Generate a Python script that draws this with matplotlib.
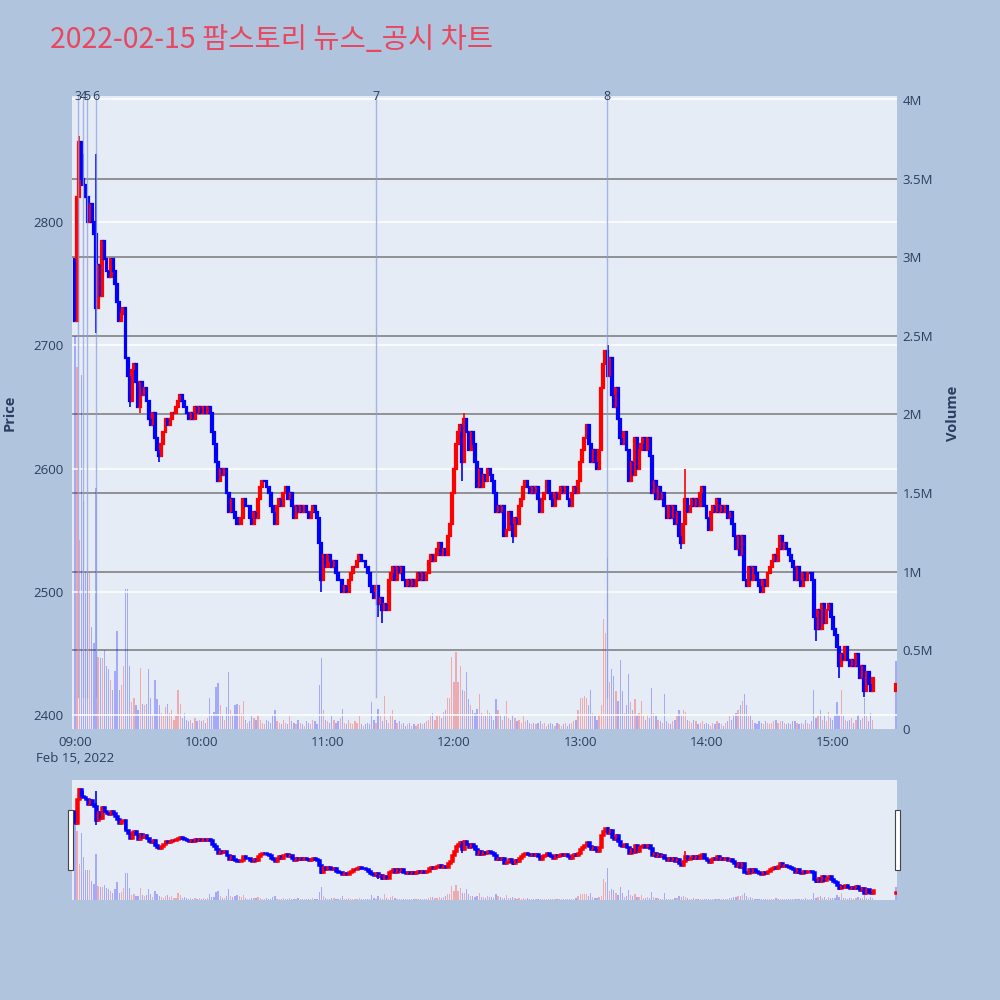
import matplotlib.pyplot as plt
import numpy as np
from matplotlib.patches import Rectangle
import matplotlib.transforms as mtransforms

plt.rcParams['font.family'] = ['Open Sans', 'Noto Sans CJK KR', 'DejaVu Sans']

BG = "#b0c4de"
PLOT_BG = "#e5ecf6"
TXT = "#2a3f5f"
UP = "#ff0000"
DOWN = "#0000ff"

title = "2022-02-15 팜스토리 뉴스_공시 차트"
date_label = "Feb 15, 2022"

# 1-minute candles 09:00 .. 15:19, open of each = previous close
first_open = 2770
closes = [
    2720, 2820, 2865, 2835, 2830, 2820, 2800, 2815, 2800, 2790,
    2730, 2765, 2740, 2785, 2770, 2760, 2755, 2770, 2760, 2750,
    2735, 2720, 2725, 2730, 2690, 2675, 2655, 2680, 2685, 2670,
    2650, 2670, 2660, 2665, 2655, 2640, 2635, 2645, 2625, 2615,
    2610, 2620, 2630, 2640, 2635, 2640, 2645, 2645, 2650, 2655,
    2660, 2655, 2650, 2645, 2640, 2645, 2640, 2650, 2645, 2650,
    2645, 2650, 2645, 2650, 2645, 2630, 2620, 2605, 2590, 2600,
    2595, 2600, 2580, 2565, 2575, 2565, 2560, 2555, 2555, 2560,
    2575, 2570, 2570, 2560, 2555, 2565, 2560, 2575, 2585, 2590,
    2590, 2585, 2580, 2570, 2565, 2555, 2570, 2575, 2570, 2580,
    2585, 2575, 2580, 2570, 2560, 2570, 2565, 2570, 2565, 2570,
    2565, 2560, 2565, 2570, 2565, 2560, 2540, 2510, 2530, 2520,
    2530, 2525, 2520, 2525, 2515, 2510, 2510, 2500, 2505, 2500,
    2510, 2515, 2520, 2520, 2525, 2530, 2525, 2525, 2520, 2515,
    2505, 2500, 2495, 2505, 2490, 2495, 2485, 2490, 2485, 2510,
    2515, 2520, 2510, 2520, 2515, 2520, 2510, 2505, 2510, 2505,
    2510, 2505, 2510, 2515, 2510, 2515, 2510, 2515, 2525, 2530,
    2525, 2530, 2535, 2540, 2530, 2535, 2530, 2545, 2555, 2580,
    2600, 2620, 2630, 2635, 2605, 2640, 2630, 2615, 2630, 2620,
    2605, 2585, 2600, 2585, 2595, 2590, 2600, 2595, 2590, 2580,
    2565, 2570, 2565, 2570, 2545, 2550, 2565, 2555, 2545, 2560,
    2555, 2570, 2575, 2585, 2590, 2585, 2580, 2585, 2580, 2585,
    2575, 2565, 2575, 2580, 2590, 2580, 2575, 2570, 2580, 2575,
    2580, 2585, 2580, 2585, 2575, 2570, 2580, 2585, 2580, 2590,
    2605, 2615, 2625, 2635, 2620, 2605, 2615, 2605, 2600, 2615,
    2665, 2685, 2695, 2675, 2690, 2660, 2650, 2665, 2640, 2625,
    2620, 2630, 2615, 2590, 2605, 2595, 2625, 2600, 2615, 2620,
    2625, 2615, 2625, 2610, 2580, 2590, 2575, 2585, 2575, 2580,
    2570, 2560, 2570, 2560, 2570, 2555, 2565, 2545, 2540, 2555,
    2575, 2565, 2570, 2575, 2570, 2575, 2570, 2580, 2585, 2570,
    2560, 2550, 2565, 2570, 2565, 2575, 2565, 2570, 2565, 2570,
    2560, 2565, 2555, 2545, 2535, 2545, 2530, 2545, 2510, 2505,
    2520, 2510, 2520, 2515, 2510, 2505, 2500, 2510, 2505, 2515,
    2520, 2525, 2530, 2525, 2535, 2545, 2535, 2540, 2535, 2530,
    2525, 2520, 2510, 2520, 2510, 2505, 2515, 2510, 2515, 2515,
    2510, 2480, 2470, 2485, 2470, 2490, 2475, 2485, 2490, 2480,
    2470, 2465, 2455, 2440, 2450, 2445, 2455, 2445, 2440, 2445,
    2440, 2450, 2440, 2430, 2440, 2420, 2435, 2425, 2420, 2430,
]
# wicks reaching beyond the candle body (minute index -> price)
wick_high = {2: 2870, 4: 2855, 10: 2855, 185: 2645, 253: 2700, 290: 2600}
wick_low = {10: 2710, 26: 2650, 31: 2645, 40: 2605, 117: 2500, 144: 2480,
            146: 2475, 184: 2590, 208: 2540, 288: 2535, 352: 2460,
            363: 2430, 375: 2415}

# volume in thousand shares per minute
volume_k = [
    2500, 2300, 1200, 2250, 1450, 1000, 1000, 1000, 650, 550,
    1530, 460, 450, 450, 500, 400, 380, 310, 250, 370,
    620, 250, 280, 400, 890, 890, 400, 170, 200, 150,
    120, 390, 160, 150, 160, 380, 200, 90, 310, 190,
    150, 100, 80, 140, 160, 100, 120, 60, 80, 250,
    160, 70, 100, 60, 50, 60, 40, 70, 50, 60,
    50, 60, 40, 70, 200, 90, 110, 270, 290, 150,
    80, 60, 140, 360, 120, 90, 150, 160, 150, 100,
    180, 60, 40, 50, 80, 70, 60, 90, 60, 40,
    30, 60, 50, 40, 90, 120, 50, 40, 30, 60,
    40, 30, 80, 50, 40, 30, 60, 40, 30, 20,
    50, 40, 30, 60, 50, 30, 280, 450, 120, 60,
    50, 40, 80, 60, 40, 50, 70, 125, 40, 30,
    60, 40, 30, 50, 40, 80, 30, 20, 30, 40,
    30, 170, 60, 40, 125, 80, 50, 210, 60, 40,
    90, 120, 60, 40, 50, 30, 40, 20, 30, 40,
    20, 30, 20, 30, 40, 30, 40, 50, 60, 90,
    100, 60, 80, 90, 70, 110, 120, 200, 200, 460,
    300, 490, 300, 400, 250, 240, 360, 190, 150, 120,
    100, 130, 220, 100, 90, 80, 120, 100, 90, 60,
    190, 120, 90, 60, 80, 180, 70, 60, 90, 70,
    50, 60, 40, 80, 50, 60, 40, 30, 40, 30,
    40, 50, 30, 40, 20, 30, 40, 30, 20, 40,
    30, 20, 30, 40, 20, 30, 40, 50, 60, 120,
    200, 200, 210, 200, 150, 250, 100, 80, 60, 90,
    150, 700, 610, 1090, 300, 380, 340, 240, 180, 440,
    240, 100, 150, 350, 170, 120, 190, 90, 100, 180,
    80, 60, 90, 70, 260, 100, 80, 60, 50, 40,
    220, 50, 40, 30, 50, 60, 80, 120, 90, 120,
    110, 60, 50, 40, 60, 50, 30, 40, 50, 30,
    40, 30, 20, 40, 30, 50, 40, 30, 20, 40,
    50, 80, 60, 90, 100, 120, 150, 180, 220, 150,
    80, 90, 60, 40, 30, 50, 40, 30, 50, 40,
    30, 40, 50, 60, 40, 50, 50, 40, 30, 40,
    30, 50, 50, 40, 30, 40, 30, 60, 40, 30,
    50, 250, 70, 90, 120, 60, 90, 50, 110, 70,
    60, 80, 170, 90, 250, 80, 60, 50, 60, 70,
    40, 60, 90, 60, 70, 200, 80, 50, 100, 60,
]

# closing auction
auction_time = "15:30"
auction_open, auction_close, auction_volume_k = 2420, 2425, 430

news_labels = ["3", "4", "5", "6", "7", "8"]
news_times = ["09:01:20", "09:03:55", "09:05:50", "09:09:50", "11:22:55", "13:12:40"]

time_ticks = ["09:00", "10:00", "11:00", "12:00", "13:00", "14:00", "15:00"]
price_ticks = [2400, 2500, 2600, 2700, 2800]
volume_ticks = [0, 500_000, 1_000_000, 1_500_000, 2_000_000, 2_500_000,
                3_000_000, 3_500_000, 4_000_000]
volume_tick_labels = ["0", "0.5M", "1M", "1.5M", "2M", "2.5M", "3M", "3.5M", "4M"]


def to_min(t):
    p = [int(v) for v in t.split(":")]
    s = p[2] if len(p) > 2 else 0
    return p[0] * 60 + p[1] + s / 60 - 9 * 60


x = np.array(list(range(len(closes))) + [to_min(auction_time)], dtype=float)
c_all = np.array(closes + [auction_close], dtype=float)
o_all = np.array([first_open] + closes[:-1] + [auction_open], dtype=float)
prev = np.array([first_open] + closes, dtype=float)
hi = np.maximum(o_all, c_all)
lo = np.minimum(o_all, c_all)
for k, v in wick_high.items():
    hi[k] = max(hi[k], v)
for k, v in wick_low.items():
    lo[k] = min(lo[k], v)
candle_cols = [UP if c > o else DOWN for o, c in zip(o_all, c_all)]
vol = np.array(volume_k + [auction_volume_k]) * 1000
vol_cols = [UP if c >= p else DOWN for p, c in zip(prev, c_all)]

XLIM = (-1.4, 390.5)
PLIM = (2388.8, 2902.2)
VLIM = (0, 4.025e6)


def draw(ax_p, ax_v, body_w, body_lw, wick_lw):
    ax_v.bar(x, vol, width=0.6, color=vol_cols, alpha=0.28, lw=0)
    ax_p.vlines(x, lo, hi, colors=candle_cols, lw=wick_lw)
    ax_p.bar(x, c_all - o_all, bottom=o_all, width=body_w, color=candle_cols,
             edgecolor=candle_cols, lw=body_lw)
    for a in (ax_p, ax_v):
        a.set_xlim(*XLIM)
        for s in a.spines.values():
            s.set_visible(False)
    ax_p.set_ylim(*PLIM)
    ax_v.set_ylim(*VLIM)


fig = plt.figure(figsize=(10, 10), dpi=100, facecolor=BG)

# main chart
ax_v = fig.add_axes([0.072, 0.271, 0.825, 0.633], facecolor=PLOT_BG)
ax_p = fig.add_axes([0.072, 0.271, 0.825, 0.633], zorder=2)
ax_p.patch.set_visible(False)

for v in volume_ticks[1:-1]:
    ax_v.axhline(v, color="#8a8a8a", lw=1.3, zorder=0)
for p in price_ticks:
    ax_p.axhline(p, color="white", lw=1.1, zorder=0)
ax_p.axhline(2900, color="white", lw=1.1, zorder=0)

draw(ax_p, ax_v, 0.9, 1.6, 1.2)

ax_v.yaxis.tick_right()
ax_v.set_yticks(volume_ticks)
ax_v.set_yticklabels(volume_tick_labels)
ax_v.set_xticks([])
ax_v.tick_params(axis="y", length=0, pad=4, labelsize=9.5, colors=TXT)

ax_p.set_yticks(price_ticks)
ax_p.set_xticks([to_min(t) for t in time_ticks])
ax_p.set_xticklabels(time_ticks)
ax_p.tick_params(length=0, labelsize=9.5, colors=TXT)
ax_p.tick_params(axis="x", pad=5)
ax_p.tick_params(axis="y", pad=6)

trans = mtransforms.blended_transform_factory(ax_p.transData, ax_p.transAxes)
for lab, t in zip(news_labels, news_times):
    xm = to_min(t)
    ax_p.axvline(xm, ymin=0.05, ymax=1, color="#8da0e0", alpha=0.75, lw=1, zorder=3)
    ax_p.text(xm, 1.0, lab, transform=trans, ha="center", va="center",
              fontsize=9, color=TXT, clip_on=False)

fig.text(0.05, 0.96, title, color="#e8475f", fontsize=20.5, va="center", ha="left",
         family=["Noto Sans CJK KR", "DejaVu Sans"])
fig.text(0.075, 0.242, date_label, color=TXT, fontsize=9.5, ha="center", va="center")
fig.text(0.010, 0.587, "Price", rotation=90, color=TXT, fontsize=10.5,
         fontweight="bold", ha="center", va="center")
fig.text(0.953, 0.587, "Volume", rotation=90, color=TXT, fontsize=10.5,
         fontweight="bold", ha="center", va="center")

# range slider
sv = fig.add_axes([0.072, 0.1, 0.825, 0.12], facecolor=PLOT_BG)
sp = fig.add_axes([0.072, 0.1, 0.825, 0.12], zorder=2)
sp.patch.set_visible(False)
draw(sp, sv, 0.9, 1.8, 1.2)
for a in (sv, sp):
    a.set_xticks([])
    a.set_yticks([])

for hx in (0.068, 0.895):
    fig.patches.append(Rectangle((hx, 0.13), 0.005, 0.06, transform=fig.transFigure,
                                 facecolor="white", edgecolor="#444444", lw=0.8,
                                 zorder=5))

fig.savefig("out.png", dpi=100, facecolor=BG)
